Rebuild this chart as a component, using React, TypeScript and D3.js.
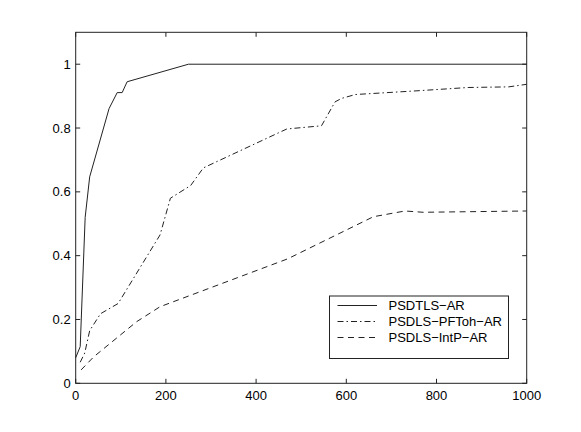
import React from 'react';
import { scaleLinear, line } from 'd3';

// series values
const tlsX = [0, 10, 21, 31, 74, 92, 103, 114, 250, 1000];
const tlsY = [0.08, 0.115, 0.52, 0.647, 0.861, 0.911, 0.911, 0.945, 1.0, 1.0];

const ptohX = [10, 20, 31, 55, 94, 187, 210, 255, 283, 468, 545, 575, 590, 620, 750, 870, 960, 1000];
const ptohY = [0.066, 0.095, 0.165, 0.218, 0.25, 0.465, 0.58, 0.62, 0.675, 0.797, 0.807, 0.882, 0.893, 0.905, 0.916, 0.927, 0.929, 0.937];

const intpX = [12, 40, 135, 187, 470, 660, 730, 770, 1000];
const intpY = [0.042, 0.083, 0.193, 0.24, 0.39, 0.522, 0.54, 0.536, 0.54];

const legendLabels = ['PSDTLS\u2212AR', 'PSDLS\u2212PFToh\u2212AR', 'PSDLS\u2212IntP\u2212AR'];
const xTicks = [0, 200, 400, 600, 800, 1000];
const yTicks = [0, 0.2, 0.4, 0.6, 0.8, 1];

const W = 581;
const H = 432;
const left = 75.7;
const right = 526.7;
const top = 32.3;
const bottom = 383.3;

// solid, dash-dot, dashed
const dashes = ['none', '6,3,1.5,3', '6,4.5'];
const font = '"Liberation Sans", Arial, Helvetica, sans-serif';

export default function App() {
  const x = scaleLinear().domain([0, 1000]).range([left, right]);
  const y = scaleLinear().domain([0, 1.1]).range([bottom, top]);

  const series = [
    { xs: tlsX, ys: tlsY },
    { xs: ptohX, ys: ptohY },
    { xs: intpX, ys: intpY },
  ];

  const pathFor = (xs: number[], ys: number[]) =>
    line<number>()
      .x((d) => x(d))
      .y((d, i) => y(ys[i]))(xs) as string;

  // legend box
  const lgX0 = 329.5;
  const lgX1 = 508.5;
  const lgY0 = 296;
  const lgY1 = 358.5;
  const rowY = [305.5, 321.5, 337.5];

  return (
    <svg
      width={W}
      height={H}
      style={{ position: 'absolute', left: 0, top: 0, background: '#fff' }}
      fontFamily={font}
    >
      <rect x={0} y={0} width={W} height={H} fill="#fff" />

      {series.map((s, i) => (
        <path
          key={i}
          d={pathFor(s.xs, s.ys)}
          fill="none"
          stroke="#222"
          strokeWidth={1}
          strokeDasharray={dashes[i]}
        />
      ))}

      {/* axes box */}
      <rect
        x={left}
        y={top}
        width={right - left}
        height={bottom - top}
        fill="none"
        stroke="#222"
        strokeWidth={1}
      />

      {xTicks.map((t) => (
        <g key={'x' + t}>
          <line x1={x(t)} x2={x(t)} y1={bottom} y2={bottom - 4.5} stroke="#222" />
          <line x1={x(t)} x2={x(t)} y1={top} y2={top + 4.5} stroke="#222" />
          <text x={x(t)} y={400} textAnchor="middle" fontSize={13} fill="#000">
            {t}
          </text>
        </g>
      ))}

      {yTicks.map((t) => (
        <g key={'y' + t}>
          <line x1={left} x2={left + 4.5} y1={y(t)} y2={y(t)} stroke="#222" />
          <line x1={right} x2={right - 4.5} y1={y(t)} y2={y(t)} stroke="#222" />
          <text x={left - 5} y={y(t) + 4.5} textAnchor="end" fontSize={13} fill="#000">
            {t === 0 || t === 1 ? String(t) : t.toFixed(1)}
          </text>
        </g>
      ))}

      {/* legend */}
      <rect
        x={lgX0}
        y={lgY0}
        width={lgX1 - lgX0}
        height={lgY1 - lgY0}
        fill="#fff"
        stroke="#222"
        strokeWidth={1}
      />
      {legendLabels.map((lab, i) => (
        <g key={lab}>
          <line
            x1={337.5}
            x2={377}
            y1={rowY[i]}
            y2={rowY[i]}
            stroke="#222"
            strokeDasharray={dashes[i]}
          />
          <text x={388.5} y={rowY[i] + 4.5} fontSize={13} fill="#000">
            {lab}
          </text>
        </g>
      ))}
    </svg>
  );
}
